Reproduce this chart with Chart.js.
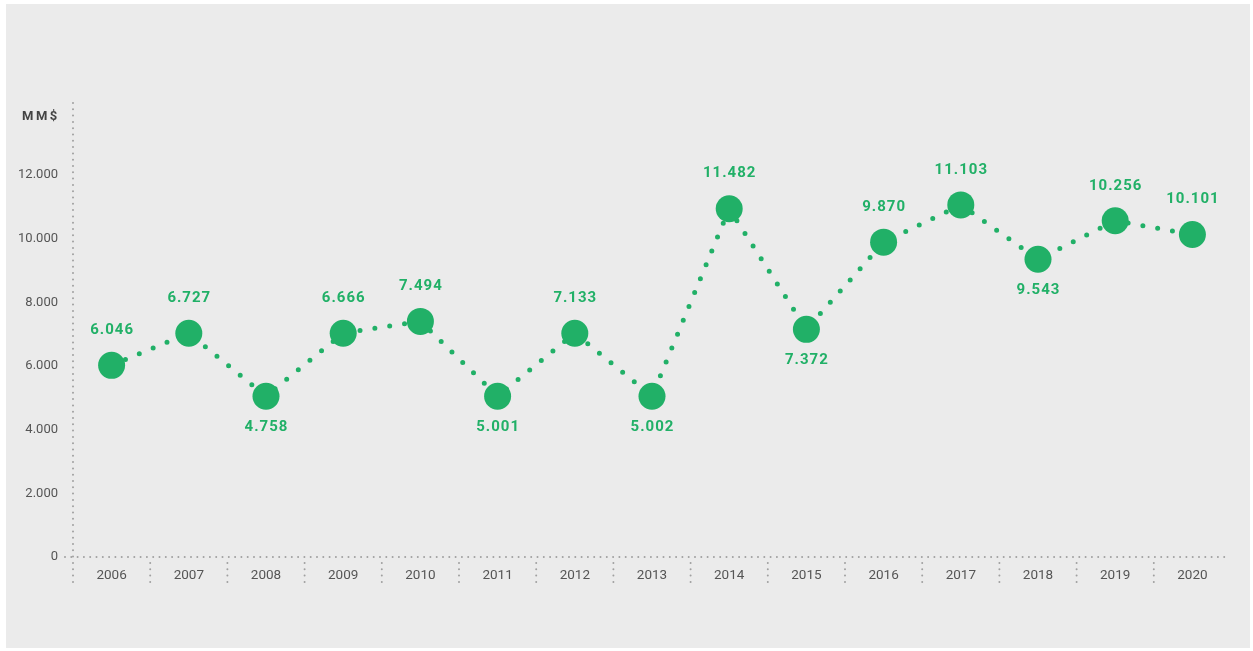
<!DOCTYPE html>
<html>
<head>
<meta charset="utf-8">
<script src="https://cdn.jsdelivr.net/npm/chart.js@4.4.1/dist/chart.umd.min.js"></script>
<style>
  html, body { margin: 0; padding: 0; background: #ffffff; }
  #wrap { position: absolute; left: 0; top: 0; width: 1253px; height: 651px; }
</style>
</head>
<body>
<div id="wrap"><canvas id="c" width="1253" height="651"></canvas></div>
<script>
// ---- data ----
const years = ['2006','2007','2008','2009','2010','2011','2012','2013','2014','2015','2016','2017','2018','2019','2020'];
// point heights as drawn in the picture (MM$)
const pointValues = [6020, 7030, 5050, 7030, 7400, 5050, 7030, 5050, 10940, 7150, 9890, 11060, 9350, 10560, 10130];
// value labels printed next to the points (MM$)
const valueLabels = [6046, 6727, 4758, 6666, 7494, 5001, 7133, 5002, 11482, 7372, 9870, 11103, 9543, 10256, 10101];
const yTicks = [0, 2000, 4000, 6000, 8000, 10000, 12000];
const unitLabel = 'MM$';

const GREEN = '#21b067';
const AXIS = '#a0a0a0';
const TEXT = '#555555';
const labelSide = ['top','top','bottom','top','top','bottom','top','bottom','top','bottom','top','top','bottom','top','top'];

function fmt(v) {
  return String(v).replace(/\B(?=(\d{3})+(?!\d))/g, '.');
}

const bgPlugin = {
  id: 'bg',
  beforeDraw(chart) {
    const ctx = chart.ctx;
    ctx.save();
    ctx.fillStyle = '#ffffff';
    ctx.fillRect(0, 0, chart.width, chart.height);
    ctx.fillStyle = '#ebebeb';
    ctx.fillRect(6, 4, 1244, 644);
    ctx.restore();
  }
};

// dotted axes and category separators, positioned from the chart's scales
const axesPlugin = {
  id: 'dottedAxes',
  beforeDatasetsDraw(chart) {
    const ctx = chart.ctx;
    const a = chart.chartArea;
    const xs = chart.scales.x;
    const ys = chart.scales.y;
    const y0 = ys.getPixelForValue(0);
    ctx.save();
    ctx.strokeStyle = AXIS;
    ctx.lineWidth = 2;
    ctx.lineCap = 'round';
    ctx.setLineDash([0, 6.3]);
    // y axis
    ctx.beginPath();
    ctx.moveTo(a.left, a.top);
    ctx.lineTo(a.left, y0);
    ctx.stroke();
    // x axis (extends slightly left of the y axis)
    ctx.beginPath();
    ctx.moveTo(a.left - 8, y0);
    ctx.lineTo(a.right - 6, y0);
    ctx.stroke();
    // separators between categories
    const n = years.length;
    const step = (xs.getPixelForValue(1) - xs.getPixelForValue(0));
    for (let i = 0; i < n; i++) {
      const x = xs.getPixelForValue(i) - step / 2;
      ctx.beginPath();
      ctx.moveTo(x, i === 0 ? y0 + 6 : y0 + 6);
      ctx.lineTo(x, y0 + 28);
      ctx.stroke();
    }
    ctx.restore();
  }
};

const labelPlugin = {
  id: 'valueLabels',
  afterDatasetsDraw(chart) {
    const ctx = chart.ctx;
    const meta = chart.getDatasetMeta(0);
    ctx.save();
    ctx.font = 'bold 15px Roboto';
    try { ctx.letterSpacing = '1px'; } catch (e) {}
    ctx.fillStyle = GREEN;
    ctx.textAlign = 'center';
    ctx.textBaseline = 'middle';
    meta.data.forEach((pt, i) => {
      const dy = labelSide[i] === 'top' ? -35 : 31;
      ctx.fillText(fmt(valueLabels[i]), pt.x + 0.5, pt.y + dy);
    });
    // unit label
    ctx.font = 'bold 13px Roboto';
    try { ctx.letterSpacing = '2.5px'; } catch (e) {}
    ctx.fillStyle = '#444444';
    ctx.textAlign = 'left';
    ctx.fillText(unitLabel, 22, 117);
    ctx.restore();
  }
};

new Chart(document.getElementById('c'), {
  type: 'line',
  data: {
    labels: years,
    datasets: [{
      data: pointValues,
      borderColor: GREEN,
      backgroundColor: GREEN,
      borderWidth: 5,
      borderDash: [0, 15],
      borderCapStyle: 'round',
      pointRadius: 13.5,
      pointHoverRadius: 13.5,
      pointBackgroundColor: GREEN,
      pointBorderWidth: 0,
      tension: 0,
      fill: false
    }]
  },
  options: {
    responsive: false,
    animation: false,
    events: [],
    layout: { autoPadding: false, padding: { left: 0, top: 103, right: 22, bottom: 0 } },
    plugins: { legend: { display: false }, tooltip: { enabled: false } },
    scales: {
      x: {
        type: 'category',
        offset: true,
        afterFit(scale) { scale.height = 94; },
        border: { display: false },
        grid: { display: false, drawTicks: false },
        ticks: {
          color: TEXT,
          font: { family: 'Roboto', size: 13.5 },
          padding: 11,
          maxRotation: 0
        }
      },
      y: {
        type: 'linear',
        min: 0,
        max: 14260,
        afterFit(scale) { scale.width = 73; },
        afterBuildTicks(scale) { scale.ticks = yTicks.map(v => ({ value: v })); },
        border: { display: false },
        grid: { display: false, drawTicks: false },
        ticks: {
          color: TEXT,
          font: { family: 'Roboto', size: 13 },
          padding: 15,
          callback: (v) => fmt(v)
        }
      }
    }
  },
  plugins: [bgPlugin, axesPlugin, labelPlugin]
});
</script>
</body>
</html>
